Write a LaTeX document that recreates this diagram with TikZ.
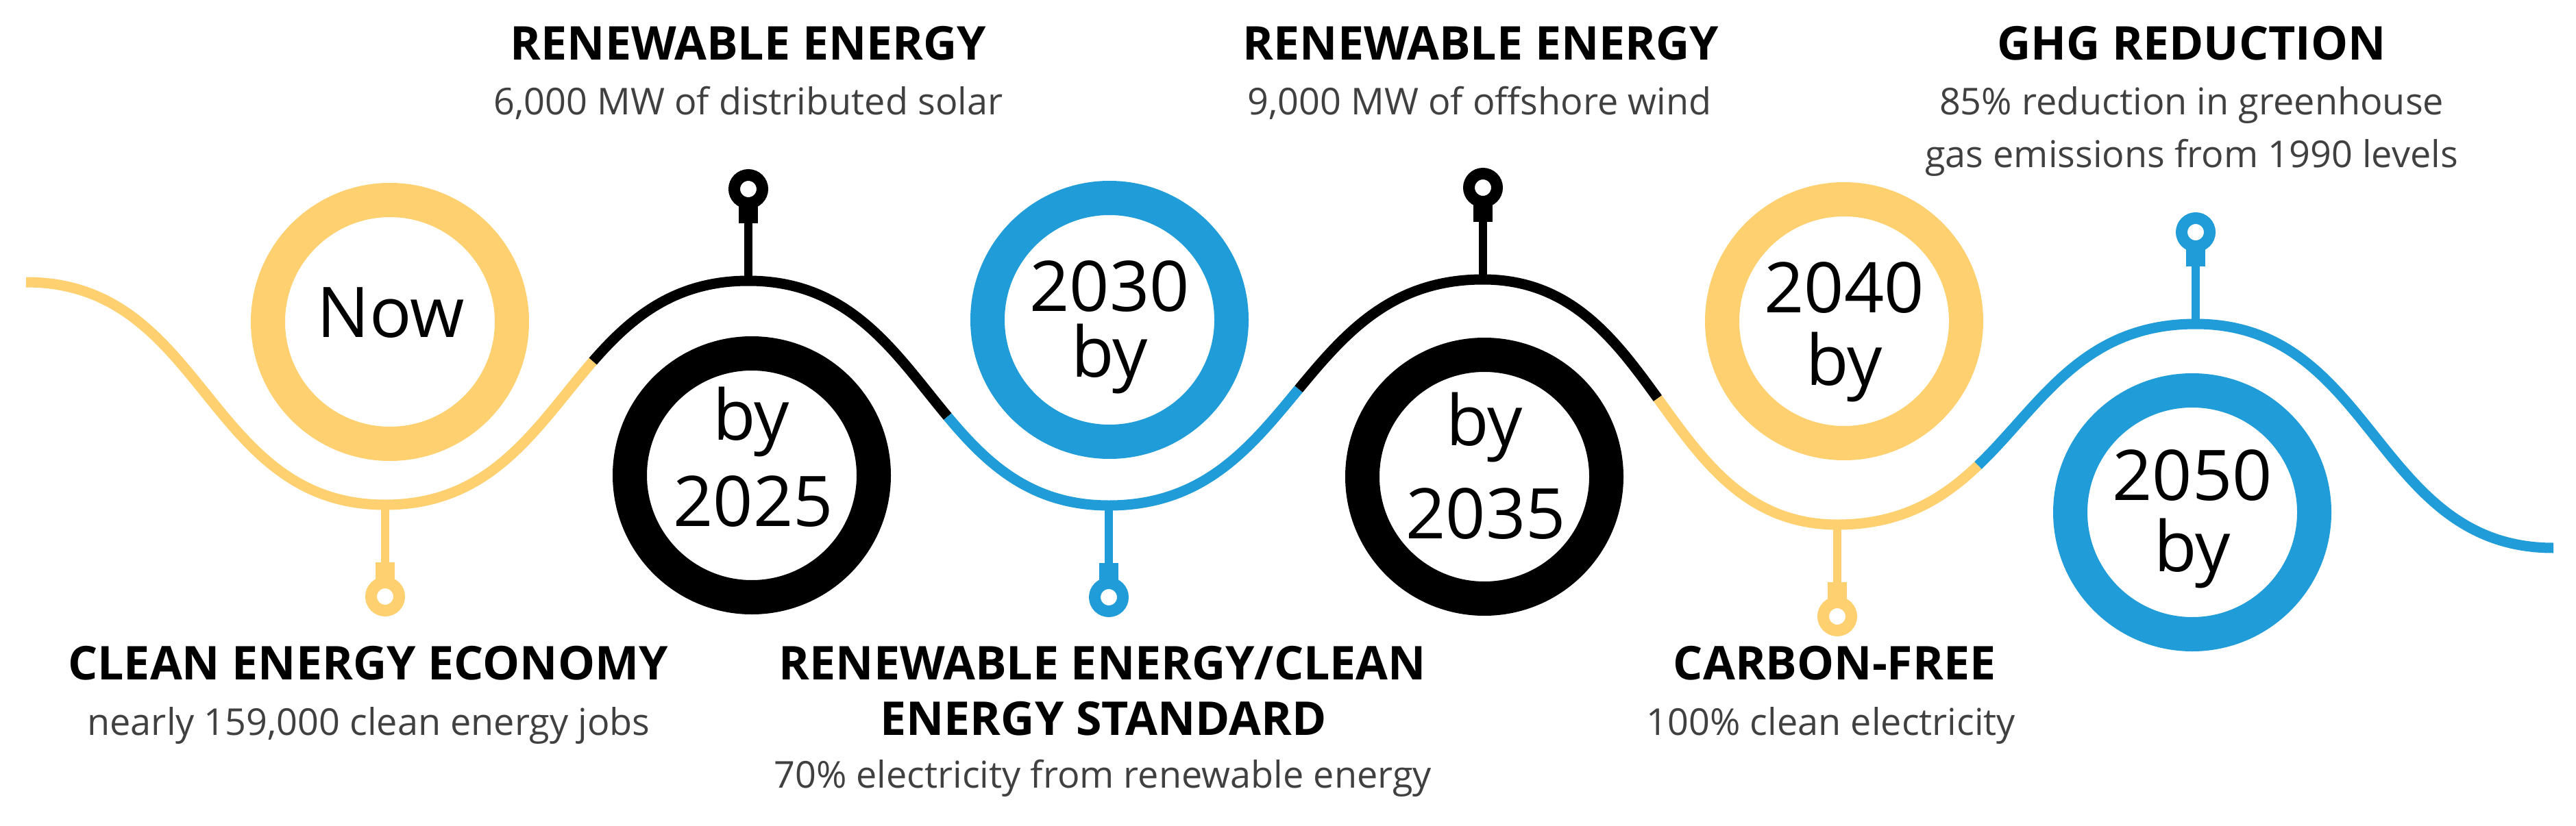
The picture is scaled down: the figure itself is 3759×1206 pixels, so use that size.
\documentclass[tikz,border=0pt]{standalone}
\usepackage{fontspec}
\setmainfont{Open Sans}
\usetikzlibrary{calc}
\definecolor{wyellow}{RGB}{255,208,112}
\definecolor{wblue}{RGB}{32,157,217}
\definecolor{subgray}{RGB}{64,64,64}
\newcommand{\bzsplit}[6]{%
  \coordinate (#6q0) at ($(#1)!#5!(#2)$);
  \coordinate (#6q1) at ($(#2)!#5!(#3)$);
  \coordinate (#6q2) at ($(#3)!#5!(#4)$);
  \coordinate (#6r0) at ($(#6q0)!#5!(#6q1)$);
  \coordinate (#6r1) at ($(#6q1)!#5!(#6q2)$);
  \coordinate (#6) at ($(#6r0)!#5!(#6r1)$);
}
\begin{document}
\begin{tikzpicture}[x=1pt,y=-1pt,
  wave/.style={line width=15pt, line cap=butt},
  ring/.style={circle, line width=50pt, minimum size=356pt, inner sep=0pt},
  pinring/.style={circle, line width=17pt, minimum size=41pt, inner sep=0pt},
  stem/.style={line width=12pt},
  stemcap/.style={line width=28pt},
  ttl/.style={anchor=base, font=\fontsize{68}{74}\selectfont\bfseries, text=black, inner sep=0pt},
  sub/.style={anchor=base, font=\fontsize{54}{60}\selectfont, text=subgray, inner sep=0pt},
  yr/.style={anchor=base, font=\fontsize{102}{110}\selectfont, text=black, inner sep=0pt},
]
\useasboundingbox[fill=white] (0,0) rectangle (3759,1206);

% wave key points
\coordinate (A0) at (38,412);
\coordinate (A1) at (562,737);
\coordinate (A2) at (1092,410);
\coordinate (A3) at (1618,738);
\coordinate (A4) at (2164,408);
\coordinate (A5) at (2681,766);
\coordinate (A6) at (3204,473);
\coordinate (A7) at (3726,800);
% control points
\coordinate (B0) at (300,412);  \coordinate (C0) at (300,737);
\coordinate (B1) at (827,737);  \coordinate (C1) at (827,410);
\coordinate (B2) at (1355,410); \coordinate (C2) at (1355,738);
\coordinate (B3) at (1891,738); \coordinate (C3) at (1891,408);
\coordinate (B4) at (2423,408); \coordinate (C4) at (2423,766);
\coordinate (B5) at (2943,766); \coordinate (C5) at (2943,473);
\coordinate (B6) at (3465,473); \coordinate (C6) at (3465,800);

\bzsplit{A1}{B1}{C1}{A2}{0.595}{s1}
\bzsplit{A2}{B2}{C2}{A3}{0.57}{s2}
\bzsplit{A3}{B3}{C3}{A4}{0.51}{s3}
\bzsplit{A4}{B4}{C4}{A5}{0.49}{s4}
\bzsplit{A5}{B5}{C5}{A6}{0.36}{s5}

% pins
\node[pinring, draw=wyellow] (p1) at (562,871) {};
\node[pinring, draw=black]   (p2) at (1092,276) {};
\node[pinring, draw=wblue]   (p3) at (1618,872) {};
\node[pinring, draw=black]   (p4) at (2164,274) {};
\node[pinring, draw=wyellow] (p5) at (2681,900) {};
\node[pinring, draw=wblue]   (p6) at (3204,339) {};

\draw[stem, wyellow] (A1) -- (p1);
\draw[stem, black]   (A2) -- (p2);
\draw[stem, wblue]   (A3) -- (p3);
\draw[stem, black]   (A4) -- (p4);
\draw[stem, wyellow] (A5) -- (p5);
\draw[stem, wblue]   (A6) -- (p6);

\draw[stemcap, wyellow] ($(p1.center)+(0,-22)$) -- ($(p1.center)+(0,-50)$);
\draw[stemcap, black]   ($(p2.center)+(0,22)$) -- ($(p2.center)+(0,50)$);
\draw[stemcap, wblue]   ($(p3.center)+(0,-22)$) -- ($(p3.center)+(0,-50)$);
\draw[stemcap, black]   ($(p4.center)+(0,22)$) -- ($(p4.center)+(0,50)$);
\draw[stemcap, wyellow] ($(p5.center)+(0,-22)$) -- ($(p5.center)+(0,-50)$);
\draw[stemcap, wblue]   ($(p6.center)+(0,22)$) -- ($(p6.center)+(0,50)$);

% wave segments
\draw[wave, wyellow] (A0) .. controls (B0) and (C0) .. (A1) .. controls (s1q0) and (s1r0) .. (s1);
\draw[wave, black] (s1) .. controls (s1r1) and (s1q2) .. (A2) .. controls (s2q0) and (s2r0) .. (s2);
\draw[wave, wblue] (s2) .. controls (s2r1) and (s2q2) .. (A3) .. controls (s3q0) and (s3r0) .. (s3);
\draw[wave, black] (s3) .. controls (s3r1) and (s3q2) .. (A4) .. controls (s4q0) and (s4r0) .. (s4);
\draw[wave, wyellow] (s4) .. controls (s4r1) and (s4q2) .. (A5) .. controls (s5q0) and (s5r0) .. (s5);
\draw[wave, wblue] (s5) .. controls (s5r1) and (s5q2) .. (A6) .. controls (B6) and (C6) .. (A7);

% big rings
\node[ring, draw=wyellow] (cNow) at (569,470) {};
\node[ring, draw=black]   (c2025) at (1097,694) {};
\node[ring, draw=wblue]   (c2030) at (1619,467) {};
\node[ring, draw=black]   (c2035) at (2166,696) {};
\node[ring, draw=wyellow] (c2040) at (2691,469) {};
\node[ring, draw=wblue]   (c2050) at (3199,748) {};

% ring texts
\node[yr] (tNow) at (570,492) {Now};
\node[yr] (t2025a) at (1096,642) {by};
\node[yr] (t2025b) at (1099,768) {2025};
\node[yr] (t2030a) at (1619,454) {2030};
\node[yr] (t2030b) at (1619,550) {by};
\node[yr] (t2035a) at (2166,650) {by};
\node[yr] (t2035b) at (2168,786) {2035};
\node[yr] (t2040a) at (2691,456) {2040};
\node[yr] (t2040b) at (2691,562) {by};
\node[yr] (t2050a) at (3199,730) {2050};
\node[yr] (t2050b) at (3199,834) {by};

% top labels
\node[ttl] (h1) at (1092,88) {RENEWABLE ENERGY};
\node[sub] (d1) at (1092,168) {6,000 MW of distributed solar};
\node[ttl] (h2) at (2161,88) {RENEWABLE ENERGY};
\node[sub] (d2) at (2159,168) {9,000 MW of offshore wind};
\node[ttl] (h3) at (3198,88) {GHG REDUCTION};
\node[sub] (d3a) at (3198,168) {85\% reduction in greenhouse};
\node[sub] (d3b) at (3198,245) {gas emissions from 1990 levels};

% bottom labels
\node[ttl] (h4) at (537,992) {CLEAN ENERGY ECONOMY};
\node[sub] (d4) at (538,1073) {nearly 159,000 clean energy jobs};
\node[ttl] (h5a) at (1609,992) {RENEWABLE ENERGY/CLEAN};
\node[ttl] (h5b) at (1610,1073) {ENERGY STANDARD};
\node[sub] (d5) at (1609,1150) {70\% electricity from renewable energy};
\node[ttl] (h6) at (2677,992) {CARBON-FREE};
\node[sub] (d6) at (2672,1073) {100\% clean electricity};
\end{tikzpicture}
\end{document}
